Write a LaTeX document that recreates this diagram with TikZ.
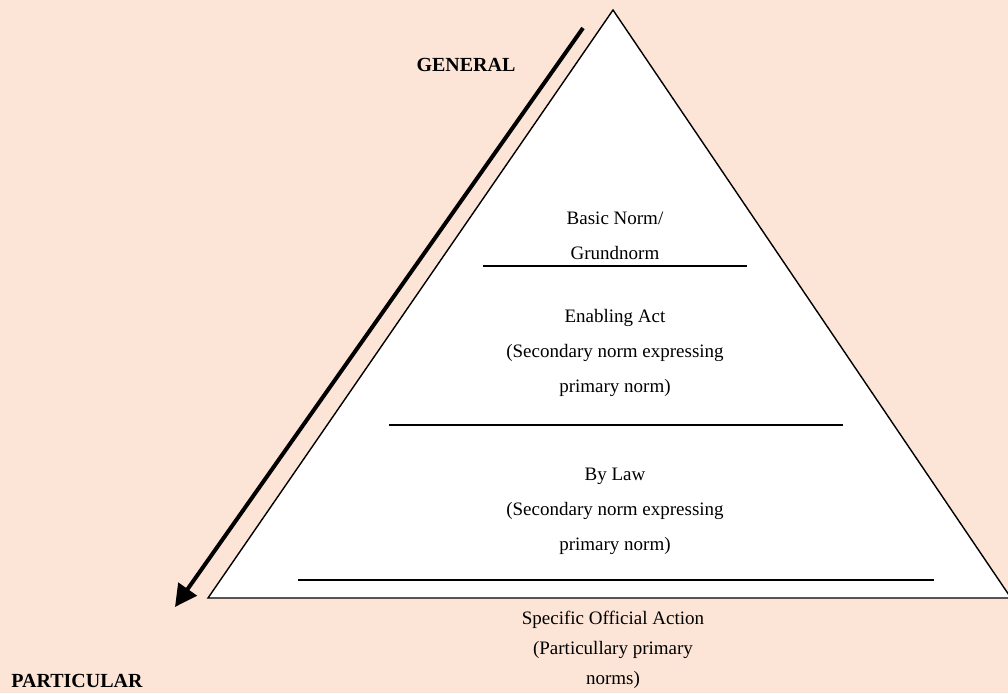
\documentclass[tikz,border=0pt]{standalone}
\usepackage{fontspec}
\setmainfont{Liberation Serif}
\usetikzlibrary{arrows.meta}
\definecolor{peach}{HTML}{FCE4D6}
\begin{document}
\begin{tikzpicture}[x=1pt,y=-1pt,
  lbl/.style={align=center,font=\fontsize{19}{35}\selectfont,inner sep=0pt},
  lblb/.style={align=center,font=\fontsize{19}{30}\selectfont,inner sep=0pt},
  hd/.style={font=\fontsize{20}{22}\selectfont\bfseries,inner sep=0pt},
  sep/.style={line width=2pt}]
\fill[peach] (0,0) rectangle (1008,693);
\useasboundingbox (0,0) rectangle (1008,693);
\draw[line width=1.4pt,fill=white] (613,10) -- (1011,598) -- (208,598) -- cycle;
\coordinate (as) at (583,28);
\coordinate (ae) at (175,607);
\draw[line width=4pt,-{Triangle[length=22pt,width=22pt]}] (as) -- (ae);
\draw[sep] (483,266) coordinate (l1a) -- (747,266) coordinate (l1b);
\draw[sep] (389,425) coordinate (l2a) -- (843,425) coordinate (l2b);
\draw[sep] (298,580) coordinate (l3a) -- (934,580) coordinate (l3b);
\node[hd] (gen) at (466,65) {GENERAL};
\node[hd] (par) at (77,681) {PARTICULAR};
\node[lbl] (basic) at (615,236) {Basic Norm/\\Grundnorm};
\node[lbl] (enab) at (615,353) {Enabling Act\\(Secondary norm expressing\\primary norm)};
\node[lbl] (bylaw) at (615,511) {By Law\\(Secondary norm expressing\\primary norm)};
\node[lblb] (spec) at (613,650) {Specific Official Action\\(Particullary primary\\norms)};
\end{tikzpicture}
\end{document}
